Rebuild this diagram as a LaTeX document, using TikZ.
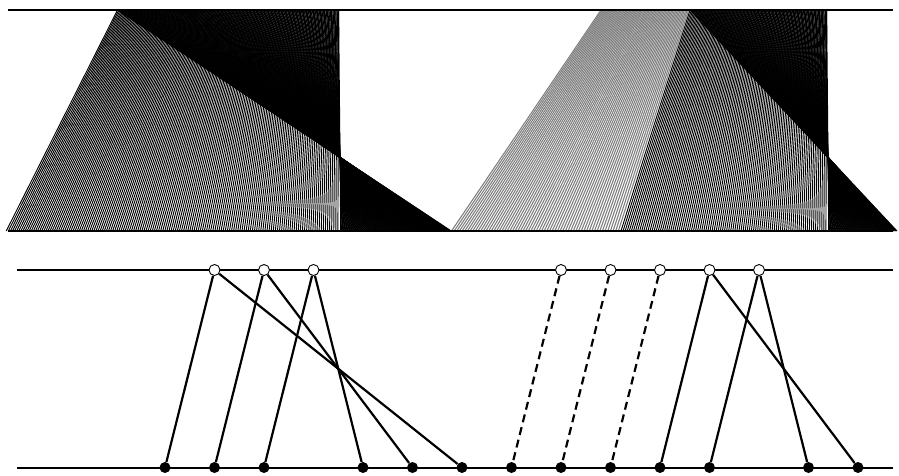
\documentclass[tikz,border=0pt]{standalone}
\begin{document}
\begin{tikzpicture}[x=1pt,y=-1pt,
  fan/.style={line width=0.95pt, black},
  grayfan/.style={line width=1.1pt, black!50},
  rail/.style={line width=2pt, black},
  edge/.style={line width=2.2pt, black},
  dashedge/.style={line width=2.2pt, black, dash pattern=on 8pt off 5pt},
  hollow/.style={circle, draw, fill=white, line width=0.9pt, minimum size=11pt, inner sep=0pt},
  solid/.style={circle, fill=black, minimum size=11pt, inner sep=0pt}]
\useasboundingbox (0,0) rectangle (899,475);
% ---------- continuous pattern (top) ----------
\foreach \i in {0,...,63} {
  \pgfmathsetmacro\myT{601+(\i/64)*89}
  \pgfmathsetmacro\myB{451.5+(\i/64)*169.5}
  \draw[grayfan] (\myT,10) -- (\myB,231);
}
\foreach \i in {0,...,159} {
  \pgfmathsetmacro\myT{117.5+(\i/160)*222.5}
  \pgfmathsetmacro\myF{340+1.5*(\myT-340)}
  \pgfmathsetmacro\myG{340-0.5*(\myT-340)}
  \draw[fan] (\myT,10) -- (\myF,231);
  \draw[fan] (\myT,10) -- (\myG,231);
}
\foreach \i in {0,...,99} {
  \pgfmathsetmacro\myT{690+(\i/100)*138}
  \pgfmathsetmacro\myF{828+1.5*(\myT-828)}
  \pgfmathsetmacro\myG{828-0.5*(\myT-828)}
  \draw[fan] (\myT,10) -- (\myF,231);
  \draw[fan] (\myT,10) -- (\myG,231);
}
\draw[rail] (8,10) -- (893,10);
\draw[rail] (8,231) -- (893,231);
% ---------- discrete diagram (bottom) ----------
\draw[rail] (17,270) -- (893,270);
\draw[rail] (17,467.5) -- (893,467.5);
\foreach \k in {1,2,3,8,9,10,11,12} {
  \node[hollow] (t\k) at ({165+49.5*\k},270) {};
}
\foreach \k in {0,1,2,4,5,6,7,8,9,10,11,13,14} {
  \node[solid] (b\k) at ({165+49.5*\k},467.5) {};
}
\draw[edge] (t1) -- (b0);
\draw[edge] (t2) -- (b1);
\draw[edge] (t3) -- (b2);
\draw[edge] (t1) -- (b6);
\draw[edge] (t2) -- (b5);
\draw[edge] (t3) -- (b4);
\draw[dashedge] (t8) -- (b7);
\draw[dashedge] (t9) -- (b8);
\draw[dashedge] (t10) -- (b9);
\draw[edge] (t11) -- (b10);
\draw[edge] (t12) -- (b11);
\draw[edge] (t11) -- (b14);
\draw[edge] (t12) -- (b13);
\end{tikzpicture}
\end{document}
